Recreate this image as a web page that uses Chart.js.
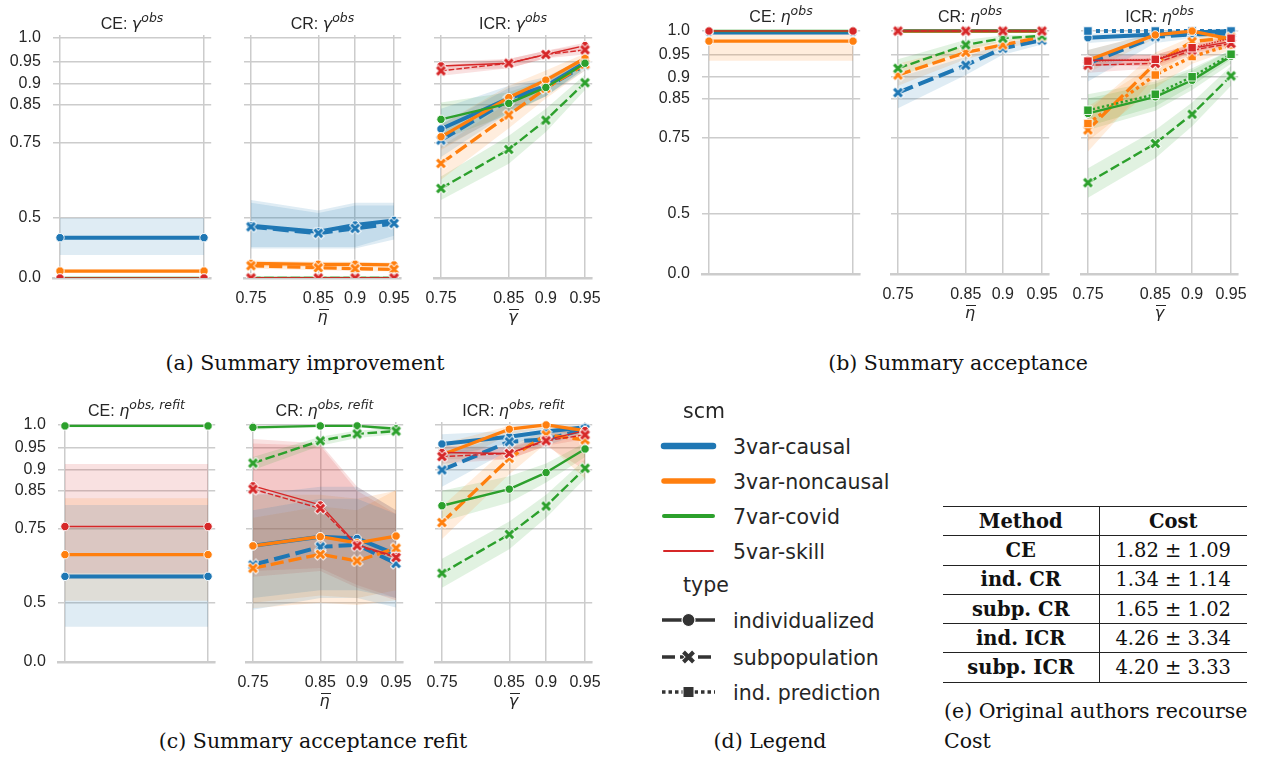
<!DOCTYPE html>
<html>
<head>
<meta charset="utf-8">
<script src="https://cdn.jsdelivr.net/npm/chart.js@4.4.1/dist/chart.umd.min.js"></script>
<style>
  html, body { margin:0; padding:0; background:#ffffff; }
  body { width:1261px; height:760px; position:relative; overflow:hidden; }
  canvas { position:absolute; }
  .lbl { position:absolute; white-space:nowrap; color:#262626; }
  .ttl { font-family:"Liberation Sans", Arial, sans-serif; font-size:16px; line-height:16px; transform:translateX(-50%); }
  .mi { font-family:"DejaVu Sans", sans-serif; font-style:italic; }
  .sp { font-size:0.78em; position:relative; top:-0.5em; }
  .xlab { font-family:"DejaVu Sans", sans-serif; font-style:italic; font-size:16px; line-height:16px; transform:translateX(-50%); }
  .bar { position:absolute; height:1.3px; background:#262626; }
  .cap { font-family:"DejaVu Serif", serif; font-size:20.5px; line-height:22px; color:#111; }
  .capc { transform:translateX(-50%); }
  .leg { font-family:"DejaVu Sans", sans-serif; font-size:20.5px; line-height:24px; }
  table.cost { position:absolute; left:943px; top:506px; border-collapse:collapse; table-layout:fixed; width:304px;
               font-family:"DejaVu Serif", serif; font-size:19.5px; color:#111; border-top:1.3px solid #222; }
  table.cost td, table.cost th { height:28.3px; padding:0; text-align:center; border-bottom:1.3px solid #222; white-space:nowrap; }
  table.cost td:first-child, table.cost th:first-child { border-right:1.3px solid #222; font-weight:bold; }
  table.cost th { font-weight:bold; }
</style>
</head>
<body>
<svg style="position:absolute;left:640px;top:390px" width="100" height="320">
  <line x1="24" y1="56" x2="73" y2="56" stroke="#1f77b4" stroke-width="6.5" stroke-linecap="round"/>
  <line x1="24" y1="91" x2="73" y2="91" stroke="#ff7f0e" stroke-width="5.5" stroke-linecap="round"/>
  <line x1="24" y1="126" x2="73" y2="126" stroke="#2ca02c" stroke-width="4" stroke-linecap="round"/>
  <line x1="24" y1="161" x2="73" y2="161" stroke="#d62728" stroke-width="2" stroke-linecap="round"/>
  <line x1="22" y1="230" x2="75" y2="230" stroke="#333" stroke-width="3.3"/>
  <circle cx="48.5" cy="230" r="6.5" fill="#333" stroke="#fff" stroke-width="1.2"/>
  <line x1="22" y1="267" x2="75" y2="267" stroke="#333" stroke-width="3.3" stroke-dasharray="13,5"/>
  <path d="M43 261.5 L54 272.5 M43 272.5 L54 261.5" stroke="#fff" stroke-width="6"/>
  <path d="M43.5 262 L53.5 272 M43.5 272 L53.5 262" stroke="#333" stroke-width="4"/>
  <line x1="22" y1="302" x2="75" y2="302" stroke="#333" stroke-width="3.3" stroke-dasharray="3.5,3"/>
  <rect x="43" y="296.5" width="11" height="11" fill="#333" stroke="#fff" stroke-width="1"/>
</svg>
<table class="cost">
  <colgroup><col style="width:156px"><col style="width:148px"></colgroup>
  <tr><th>Method</th><th>Cost</th></tr>
  <tr><td>CE</td><td>1.82 ± 1.09</td></tr>
  <tr><td>ind. CR</td><td>1.34 ± 1.14</td></tr>
  <tr><td>subp. CR</td><td>1.65 ± 1.02</td></tr>
  <tr><td>ind. ICR</td><td>4.26 ± 3.34</td></tr>
  <tr><td>subp. ICR</td><td>4.20 ± 3.33</td></tr>
</table>
<script>
// ================= DATA =================
const thresholds = [0.75, 0.85, 0.9, 0.95];
const thresholdLabels = ['0.75', '0.85', '0.9', '0.95'];
const yTicks = [0, 0.5, 0.75, 0.85, 0.9, 0.95, 1.0];
const yTickLabels = ['0.0', '0.5', '0.75', '0.85', '0.9', '0.95', '1.0'];
const ceX = [0, 1];
const scmNames = ['3var-causal', '3var-noncausal', '7var-covid', '5var-skill'];
const typeNames = ['individualized', 'subpopulation', 'ind. prediction'];

// rows: [3var-causal, 3var-noncausal, 7var-covid, 5var-skill]
// (a) Summary improvement
const ceGammaMean = [0.41, 0.17, 0.0, 0.0];
const ceGammaLo = [0.31, 0.15, 0.0, 0.0];
const ceGammaHi = [0.50, 0.19, 0.0, 0.0];

const crGammaInd = [[0.467,0.439,0.47,0.49],[0.247,0.239,0.239,0.233],[0,0,0,0],[0,0,0,0]];
const crGammaIndLo = [[0.36,0.36,0.36,0.42],[0.22,0.215,0.215,0.21],[0,0,0,0],[0,0,0,0]];
const crGammaIndHi = [[0.57,0.53,0.56,0.56],[0.27,0.26,0.26,0.255],[0,0,0,0],[0,0,0,0]];
const crGammaSub = [[0.462,0.432,0.455,0.477],[0.226,0.207,0.197,0.19],[0,0,0,0],[0,0,0,0]];
const crGammaSubLo = [[0.35,0.35,0.35,0.40],[0.2,0.18,0.17,0.165],[0,0,0,0],[0,0,0,0]];
const crGammaSubHi = [[0.56,0.52,0.55,0.55],[0.25,0.23,0.22,0.215],[0,0,0,0],[0,0,0,0]];

const icrGammaInd = [[0.788,0.865,0.894,0.947],[0.767,0.867,0.908,0.957],[0.813,0.853,0.891,0.946],[0.94,0.946,0.965,0.984]];
const icrGammaIndLo = [[0.735,0.83,0.87,0.935],[0.73,0.835,0.885,0.945],[0.76,0.825,0.87,0.935],[0.93,0.935,0.957,0.975]];
const icrGammaIndHi = [[0.84,0.895,0.915,0.958],[0.80,0.895,0.93,0.967],[0.855,0.88,0.91,0.957],[0.95,0.955,0.973,0.99]];
const icrGammaSub = [[0.758,0.861,0.891,0.942],[0.691,0.824,0.889,0.944],[0.611,0.732,0.811,0.902],[0.929,0.946,0.965,0.975]];
const icrGammaSubLo = [[0.71,0.83,0.87,0.93],[0.64,0.79,0.865,0.93],[0.57,0.69,0.78,0.885],[0.918,0.935,0.957,0.965]];
const icrGammaSubHi = [[0.80,0.89,0.91,0.955],[0.74,0.855,0.91,0.957],[0.65,0.77,0.84,0.92],[0.94,0.955,0.973,0.985]];

// (b) Summary acceptance
const ceEtaMean = [0.997, 0.979, 1.0, 1.0];
const ceEtaLo = [0.993, 0.937, 1.0, 1.0];
const ceEtaHi = [1.0, 1.0, 1.0, 1.0];

const crEtaInd = [[1,1,1,1],[1,1,1,1],[1,1,1,1],[1,1,1,1]];
const crEtaIndLo = [[1,1,1,1],[1,1,1,1],[1,1,1,1],[1,1,1,1]];
const crEtaIndHi = [[1,1,1,1],[1,1,1,1],[1,1,1,1],[1,1,1,1]];
const crEtaSub = [[0.864,0.927,0.964,0.981],[0.905,0.955,0.971,0.988],[0.92,0.971,0.985,0.99],[1,1,1,1]];
const crEtaSubLo = [[0.826,0.905,0.95,0.972],[0.88,0.94,0.962,0.982],[0.9,0.96,0.978,0.986],[1,1,1,1]];
const crEtaSubHi = [[0.9,0.945,0.975,0.988],[0.93,0.968,0.98,0.993],[0.94,0.982,0.991,0.994],[1,1,1,1]];

const icrEtaInd = [[0.986,0.993,0.997,1.0],[0.938,0.992,1.0,0.983],[0.813,0.854,0.893,0.947],[0.938,0.938,0.964,0.978]];
const icrEtaIndLo = [[0.975,0.985,0.992,0.997],[0.91,0.985,0.997,0.97],[0.77,0.82,0.87,0.93],[0.925,0.925,0.955,0.97]];
const icrEtaIndHi = [[0.995,0.998,1.0,1.0],[0.96,0.997,1.0,0.993],[0.85,0.885,0.915,0.96],[0.95,0.95,0.972,0.986]];
const icrEtaSub = [[0.931,0.988,0.993,0.995],[0.77,0.931,0.978,0.987],[0.613,0.733,0.811,0.903],[0.927,0.931,0.96,0.974]];
const icrEtaSubLo = [[0.89,0.975,0.985,0.99],[0.71,0.9,0.965,0.98],[0.56,0.69,0.78,0.88],[0.91,0.92,0.95,0.965]];
const icrEtaSubHi = [[0.96,0.996,0.998,0.999],[0.82,0.955,0.988,0.994],[0.66,0.77,0.84,0.925],[0.94,0.943,0.97,0.982]];
const icrEtaPred = [[1,1,1,1],[0.787,0.905,0.946,0.971],[0.821,0.86,0.901,0.951],[0.936,0.94,0.965,0.985]];
const icrEtaPredLo = [[1,1,1,1],[0.74,0.875,0.93,0.96],[0.78,0.83,0.88,0.94],[0.925,0.93,0.955,0.977]];
const icrEtaPredHi = [[1,1,1,1],[0.83,0.93,0.96,0.98],[0.86,0.89,0.92,0.96],[0.946,0.95,0.973,0.992]];

// (c) Summary acceptance refit
const ceRefitMean = [0.601, 0.673, 0.998, 0.756];
const ceRefitLo = [0.386, 0.508, 0.995, 0.612];
const ceRefitHi = [0.814, 0.831, 1.0, 0.914];

const crRefitInd = [[0.70,0.727,0.722,0.674],[0.70,0.727,0.709,0.729],[0.995,0.998,0.998,0.992],[0.862,0.814,0.703,0.667]];
const crRefitIndLo = [[0.52,0.55,0.55,0.52],[0.5,0.53,0.52,0.55],[0.99,0.996,0.996,0.985],[0.62,0.63,0.57,0.52]];
const crRefitIndHi = [[0.84,0.86,0.86,0.80],[0.84,0.84,0.83,0.85],[0.998,1.0,1.0,0.997],[0.97,0.96,0.86,0.80]];
const crRefitSub = [[0.64,0.697,0.703,0.645],[0.629,0.674,0.653,0.693],[0.916,0.966,0.981,0.987],[0.854,0.805,0.70,0.664]];
const crRefitSubLo = [[0.47,0.52,0.52,0.48],[0.476,0.5,0.49,0.51],[0.9,0.955,0.972,0.98],[0.6,0.62,0.56,0.51]];
const crRefitSubHi = [[0.8,0.83,0.83,0.79],[0.78,0.81,0.8,0.852],[0.93,0.975,0.988,0.993],[0.96,0.955,0.85,0.79]];

const icrRefitInd = [[0.959,0.975,0.986,0.995],[0.935,0.991,1.0,0.988],[0.812,0.854,0.894,0.948],[0.94,0.938,0.968,0.988]];
const icrRefitIndLo = [[0.93,0.96,0.975,0.99],[0.9,0.98,0.993,0.97],[0.77,0.82,0.87,0.93],[0.925,0.925,0.955,0.9]];
const icrRefitIndHi = [[0.98,0.987,0.994,0.999],[0.96,0.998,1.0,0.997],[0.85,0.885,0.915,0.962],[0.955,0.952,0.98,0.996]];
const icrRefitSub = [[0.9,0.964,0.969,0.991],[0.767,0.927,0.979,0.968],[0.612,0.734,0.811,0.904],[0.931,0.938,0.966,0.979]];
const icrRefitSubLo = [[0.86,0.945,0.955,0.984],[0.72,0.89,0.96,0.88],[0.56,0.69,0.78,0.88],[0.915,0.925,0.955,0.97]];
const icrRefitSubHi = [[0.935,0.98,0.982,0.997],[0.81,0.955,0.99,0.985],[0.66,0.77,0.84,0.925],[0.945,0.95,0.975,0.988]];

// ================= STYLE =================
const COLORS = ['#1f77b4', '#ff7f0e', '#2ca02c', '#d62728'];
const LINE_W = [4, 3.3, 2.4, 1.4];
const TICK_FONT = { family: '"Liberation Sans", Arial, sans-serif', size: 16 };
const GRID = { color: '#cccccc', lineWidth: 1.5, drawTicks: false };

// squared-spaced scale used by the original figure
class SqScale extends Chart.LinearScale {
  _sqr() { return [this.min * this.min, this.max * this.max]; }
  getPixelForValue(value) {
    const [a, b] = this._sqr();
    return this.getPixelForDecimal((value * value - a) / (b - a));
  }
  getValueForPixel(pixel) {
    const [a, b] = this._sqr();
    return Math.sqrt(a + this.getDecimalForPixel(pixel) * (b - a));
  }
}
SqScale.id = 'sq';
SqScale.defaults = Chart.LinearScale.defaults;
Chart.register(SqScale);

function rgba(hex, a) {
  const n = parseInt(hex.slice(1), 16);
  return 'rgba(' + (n >> 16) + ',' + ((n >> 8) & 255) + ',' + (n & 255) + ',' + a + ')';
}
function xMarker(color) {
  const c = document.createElement('canvas');
  c.width = 13; c.height = 13;
  const g = c.getContext('2d');
  g.translate(6.5, 6.5);
  g.beginPath(); g.moveTo(-4.6, -4.6); g.lineTo(4.6, 4.6); g.moveTo(-4.6, 4.6); g.lineTo(4.6, -4.6);
  g.strokeStyle = '#ffffff'; g.lineWidth = 4.8; g.stroke();
  g.beginPath(); g.moveTo(-3.9, -3.9); g.lineTo(3.9, 3.9); g.moveTo(-3.9, 3.9); g.lineTo(3.9, -3.9);
  g.strokeStyle = color; g.lineWidth = 3; g.stroke();
  return c;
}
const X_MARKERS = COLORS.map(xMarker);
function dashFor(type, lw) {
  if (type === 1) return [4 * lw, 1.5 * lw];
  if (type === 2) return [lw, lw];
  return [];
}

const plots = [
  { g: [52.8, 211.2, 35, 278], yl: true, kind: 'ce', ce: [ceGammaMean, ceGammaLo, ceGammaHi],
    pre: 'CE: ', sym: 'γ', sup: 'obs' },
  { g: [243.8, 401.2, 35, 278], kind: 'thr', xsym: 'η', pre: 'CR: ', sym: 'γ', sup: 'obs',
    groups: [[0, crGammaInd, crGammaIndLo, crGammaIndHi], [1, crGammaSub, crGammaSubLo, crGammaSubHi]] },
  { g: [433.8, 592.2, 35, 278], kind: 'thr', xsym: 'γ', pre: 'ICR: ', sym: 'γ', sup: 'obs',
    groups: [[0, icrGammaInd, icrGammaIndLo, icrGammaIndHi], [1, icrGammaSub, icrGammaSubLo, icrGammaSubHi]] },
  { g: [701.8, 860.2, 28, 274], yl: true, kind: 'ce', ce: [ceEtaMean, ceEtaLo, ceEtaHi],
    pre: 'CE: ', sym: 'η', sup: 'obs' },
  { g: [890.8, 1049.2, 28, 274], kind: 'thr', xsym: 'η', pre: 'CR: ', sym: 'η', sup: 'obs',
    groups: [[0, crEtaInd, crEtaIndLo, crEtaIndHi], [1, crEtaSub, crEtaSubLo, crEtaSubHi]] },
  { g: [1080.8, 1238.2, 28, 274], kind: 'thr', xsym: 'γ', pre: 'ICR: ', sym: 'η', sup: 'obs',
    groups: [[0, icrEtaInd, icrEtaIndLo, icrEtaIndHi], [1, icrEtaSub, icrEtaSubLo, icrEtaSubHi], [2, icrEtaPred, icrEtaPredLo, icrEtaPredHi]] },
  { g: [57.8, 215.2, 422, 662], yl: true, kind: 'ce', ce: [ceRefitMean, ceRefitLo, ceRefitHi],
    pre: 'CE: ', sym: 'η', sup: 'obs, refit' },
  { g: [245.8, 403.2, 422, 662], kind: 'thr', xsym: 'η', pre: 'CR: ', sym: 'η', sup: 'obs, refit',
    groups: [[0, crRefitInd, crRefitIndLo, crRefitIndHi], [1, crRefitSub, crRefitSubLo, crRefitSubHi]] },
  { g: [434.8, 592.2, 422, 662], kind: 'thr', xsym: 'γ', pre: 'ICR: ', sym: 'η', sup: 'obs, refit',
    groups: [[0, icrRefitInd, icrRefitIndLo, icrRefitIndHi], [1, icrRefitSub, icrRefitSubLo, icrRefitSubHi]] }
];

function addLabel(cls, html, x, top) {
  const d = document.createElement('div');
  d.className = 'lbl ' + cls;
  d.innerHTML = html;
  d.style.left = x + 'px';
  d.style.top = top + 'px';
  document.body.appendChild(d);
  return d;
}

function makePlot(p) {
  const [L, R, T, B] = p.g;
  const yw = p.yl ? 50 : 0, xh = 36;
  const left = Math.floor(L - yw - 24), top = Math.floor(T - 10);
  const width = Math.ceil(R + 22 - left), height = Math.ceil(B + xh + 2 - top);
  const cv = document.createElement('canvas');
  cv.width = width; cv.height = height;
  cv.style.left = left + 'px'; cv.style.top = top + 'px';
  cv.style.width = width + 'px'; cv.style.height = height + 'px';
  document.body.appendChild(cv);

  const isCE = p.kind === 'ce';
  const xs = isCE ? ceX : thresholds;
  const groups = isCE
    ? [[0, p.ce[0].map(v => xs.map(() => v)), p.ce[1].map(v => xs.map(() => v)), p.ce[2].map(v => xs.map(() => v))]]
    : p.groups;

  const clip = { left: 14, right: 14, top: 10, bottom: 0 };
  const bands = [], lines = [];
  let k = 0;
  for (let s = 0; s < scmNames.length; s++) {
    for (const [type, mean, lo, hi] of groups) {
      const col = COLORS[s];
      bands.push({ data: xs.map((x, i) => ({ x, y: hi[s][i] })), borderColor: 'transparent', borderWidth: 0,
        pointRadius: 0, fill: false, order: 1000, clip });
      bands.push({ data: xs.map((x, i) => ({ x, y: lo[s][i] })), borderColor: 'transparent', borderWidth: 0,
        pointRadius: 0, fill: '-1', backgroundColor: rgba(col, 0.14), order: 1000, clip });
      lines.push({
        label: scmNames[s] + ' / ' + typeNames[type],
        data: xs.map((x, i) => ({ x, y: mean[s][i] })),
        borderColor: col, backgroundColor: col, borderWidth: LINE_W[s],
        borderDash: dashFor(type, LINE_W[s]), borderJoinStyle: 'round', fill: false, tension: 0,
        pointStyle: type === 0 ? 'circle' : (type === 1 ? X_MARKERS[s] : 'rect'),
        pointRadius: type === 2 ? 6 : 4.2, pointBorderColor: '#ffffff', pointBorderWidth: 0.9,
        pointBackgroundColor: col, order: 500 - (k++), clip
      });
    }
  }

  const t0 = thresholds[0] * thresholds[0], t1 = thresholds[thresholds.length - 1] * thresholds[thresholds.length - 1];
  const m = 0.05 * (t1 - t0);
  const xScale = {
    type: isCE ? 'linear' : 'sq',
    min: isCE ? -0.05 : Math.sqrt(t0 - m),
    max: isCE ? 1.05 : Math.sqrt(t1 + m),
    bounds: 'data',
    afterBuildTicks: s => { s.ticks = xs.map(v => ({ value: v })); },
    afterFit: s => { s.height = xh; s.paddingLeft = 0; s.paddingRight = 0; },
    grid: GRID,
    border: { display: true, color: '#cccccc', width: 2.5 },
    ticks: { display: !isCE, autoSkip: false, maxRotation: 0, minRotation: 0, padding: 11,
      color: '#262626', font: TICK_FONT, callback: (v, i) => thresholdLabels[i] }
  };
  const yScale = {
    type: 'sq', min: 0, max: Math.sqrt(1.0125), bounds: 'data',
    afterBuildTicks: s => { s.ticks = yTicks.map(v => ({ value: v })); },
    afterFit: s => { s.width = yw; s.paddingTop = 0; s.paddingBottom = 0; },
    grid: GRID,
    border: { display: false },
    ticks: { display: !!p.yl, padding: 12, color: '#262626', font: TICK_FONT, callback: (v, i) => yTickLabels[i] }
  };

  new Chart(cv, {
    type: 'line',
    data: { datasets: bands.concat(lines) },
    options: {
      responsive: false, animation: false, events: [],
      layout: { padding: { left: L - yw - left, top: T - top, right: width - (R - left), bottom: height - (B - top) - xh } },
      plugins: { legend: { display: false }, tooltip: { enabled: false }, title: { display: false } },
      scales: { x: xScale, y: yScale }
    }
  });

  const cx = (L + R) / 2;
  addLabel('ttl', p.pre + '<span class="mi">' + p.sym + '<span class="sp">' + p.sup + '</span></span>', cx, T - 6 - 13.5);
  if (!isCE) {
    const base = B + 44.5;
    addLabel('xlab', p.xsym, cx, base - 13.55);
    const bar = document.createElement('div');
    bar.className = 'bar';
    bar.style.left = (cx - 4) + 'px';
    bar.style.width = '10px';
    bar.style.top = (base - 14) + 'px';
    document.body.appendChild(bar);
  }
}

plots.forEach(makePlot);

// legend (d)
addLabel('leg', 'scm', 683, 398.5);
const legRows = [453.5, 488.5, 523.5, 558.5];
scmNames.forEach((n, i) => addLabel('leg', n, 733, legRows[i] - 19));
addLabel('leg', 'type', 683, 573);
const typeRows = [627.5, 664.5, 699.5];
typeNames.forEach((n, i) => addLabel('leg', n, 733, typeRows[i] - 19));

// captions
addLabel('cap capc', '(a) Summary improvement', 305, 352);
addLabel('cap capc', '(b) Summary acceptance', 958, 352);
addLabel('cap capc', '(c) Summary acceptance refit', 313, 730);
addLabel('cap capc', '(d) Legend', 770, 730);
addLabel('cap', '(e) Original authors recourse', 944, 700);
addLabel('cap', 'Cost', 944, 730);
</script>
</body>
</html>
